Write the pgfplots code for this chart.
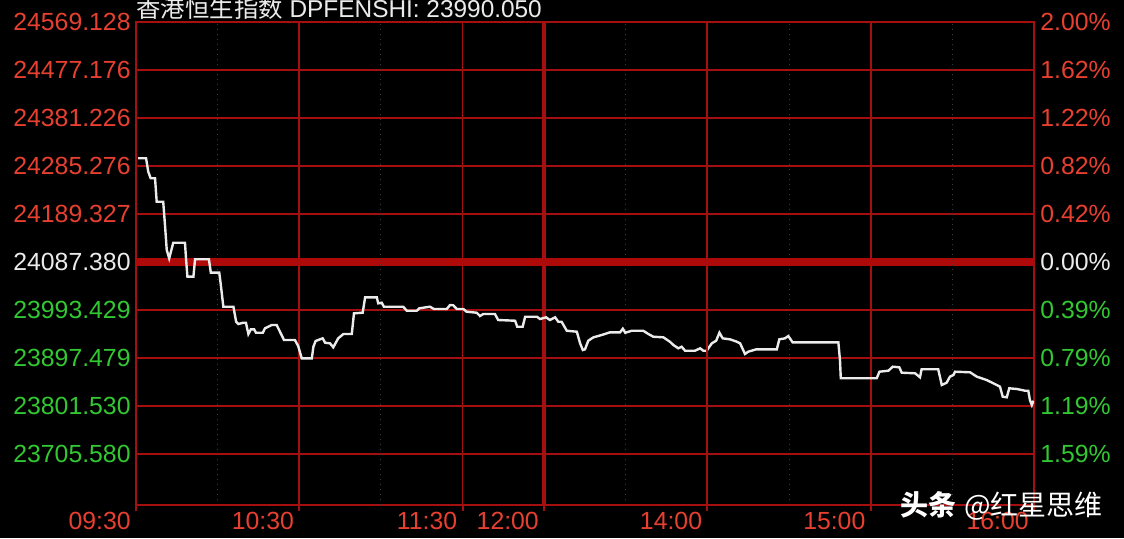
\documentclass[border=0pt]{standalone}
\usepackage{pgfplots}
\pgfplotsset{compat=1.18}
\usepackage{pgfplotstable}
\usepackage{fontspec}
\setmainfont{Liberation Sans}
\newfontfamily\cjk{Noto Sans CJK SC}
\definecolor{lred}{RGB}{232,64,48}
\definecolor{lgreen}{RGB}{50,200,50}
\definecolor{lwhite}{RGB}{235,235,235}
\definecolor{gridred}{RGB}{165,15,15}
\definecolor{basered}{RGB}{175,10,10}
\definecolor{dimgrid}{RGB}{60,60,60}

\pgfplotstableread{
t p
0.8 24294.7
3.7 24294.7
4.5 24267.9
5.4 24254.7
7.0 24254.7
7.6 24207.9
10.0 24207.9
10.7 24157.9
11.3 24111.4
12.2 24094.8
13.7 24125.9
18.0 24125.9
18.4 24092.8
18.9 24058.0
21.1 24058.0
21.7 24092.8
26.8 24092.8
27.5 24066.0
30.6 24066.0
31.1 24044.8
32.1 23998.0
35.8 23998.0
36.8 23968.0
37.6 23963.4
39.4 23966.0
40.4 23966.0
41.3 23943.4
42.2 23952.8
43.4 23952.8
44.1 23946.0
46.6 23946.0
47.4 23954.8
49.9 23961.4
51.7 23961.4
52.9 23948.0
54.4 23931.4
58.4 23931.4
59.6 23919.4
60.9 23894.8
64.6 23894.8
65.2 23918.1
66.0 23929.4
67.6 23932.8
68.6 23934.8
69.5 23926.0
71.3 23924.8
72.5 23916.8
74.3 23934.8
76.2 23943.4
79.3 23943.4
80.1 23984.8
83.3 23986.0
84.2 24016.8
88.5 24016.8
89.0 24004.8
90.3 24006.0
91.1 23998.0
98.2 23998.0
99.5 23990.0
103.2 23990.0
104.1 23994.8
108.0 23998.0
109.5 23993.4
114.2 23993.4
115.4 24001.4
116.6 24000.8
117.9 23993.4
120.3 23993.4
121.5 23988.0
125.2 23986.0
126.4 23979.4
127.6 23983.4
131.9 23983.4
133.1 23971.4
139.3 23970.0
140.1 23958.0
142.1 23958.0
143.0 23978.0
147.3 23978.0
148.5 23973.4
150.7 23976.8
152.1 23971.4
154.0 23976.8
155.2 23968.0
156.4 23968.0
158.3 23950.0
162.0 23948.0
163.2 23924.8
164.2 23911.4
165.0 23912.8
166.2 23930.0
168.1 23936.8
171.1 23941.4
174.2 23946.8
177.9 23946.8
178.9 23954.0
179.8 23946.0
182.2 23950.0
186.4 23950.0
188.3 23943.4
190.1 23938.0
193.8 23936.8
196.2 23928.0
197.5 23921.4
199.3 23914.8
200.5 23918.0
201.8 23910.0
205.4 23910.0
207.3 23914.8
208.5 23910.0
209.7 23910.0
211.6 23924.8
213.2 23930.0
214.4 23946.0
215.6 23934.8
218.3 23932.8
220.8 23928.0
222.0 23924.8
223.8 23903.5
225.0 23908.1
227.9 23912.8
235.5 23912.8
236.4 23932.8
238.5 23934.8
239.7 23939.4
241.3 23926.8
258.1 23926.8
258.7 23891.5
259.0 23854.9
272.2 23854.9
273.2 23868.1
276.5 23870.1
278.1 23878.1
280.5 23876.9
281.4 23866.1
286.3 23864.9
288.1 23856.9
288.7 23872.9
294.8 23872.9
295.7 23851.5
296.1 23841.5
297.9 23846.1
299.1 23858.1
300.4 23861.5
301.0 23868.1
306.5 23866.9
309.0 23858.1
312.6 23851.5
316.3 23841.5
317.5 23838.1
318.5 23818.1
320.0 23816.9
320.9 23834.9
323.7 23833.5
326.7 23830.1
327.9 23830.1
328.5 23811.5
329.2 23801.5
329.8 23810.1
}\hsidata

\begin{document}
\begin{tikzpicture}
\fill[black] (0,0) rectangle (562pt,269pt);
\begin{axis}[
  at={(68pt,16.5pt)}, anchor=south west,
  scale only axis, width=449pt, height=241.5pt,
  xmin=0, xmax=330, ymin=23601.6, ymax=24567.13,
  axis line style={gridred, line width=1pt},
  xtick={0,60,120,210,270,330},
  xticklabels={09:30,10:30,11:30,14:00,15:00,16:00},
  extra x ticks={150}, extra x tick labels={12:00},
  extra x tick style={major grid style={gridred, line width=2pt}},
  ytick={23703.58,23799.53,23895.48,23991.43,24087.38,24183.33,24279.28,24375.23,24471.18,24567.13},
  yticklabels={{\textcolor{lgreen}{23705.580}},{\textcolor{lgreen}{23801.530}},{\textcolor{lgreen}{23897.479}},{\textcolor{lgreen}{23993.429}},{\textcolor{lwhite}{24087.380}},{\textcolor{lred}{24189.327}},{\textcolor{lred}{24285.276}},{\textcolor{lred}{24381.226}},{\textcolor{lred}{24477.176}},{\textcolor{lred}{24569.128}}},
  extra y ticks={24087.38}, extra y tick labels={},
  extra y tick style={major grid style={basered, line width=4pt}},
  grid=major,
  major grid style={gridred, line width=0.9pt},
  xtick pos=bottom, ytick pos=left,
  xtick align=outside, major tick length=3pt,
  x tick style={gridred, line width=1pt},
  y tick style={draw=none},
  xticklabel style={font=\fontsize{12.4}{14}\selectfont, text=lred, anchor=east, inner sep=0pt, xshift=-2.5pt, yshift=-5.2pt},
  yticklabel style={font=\fontsize{12.4}{14}\selectfont, anchor=east, inner sep=0pt, xshift=-2.5pt},
]
\foreach \xx in {30,90,180,240,300}{
  \edef\tmp{\noexpand\draw[dimgrid, line width=0.5pt, dotted] (axis cs:\xx,23601.6) -- (axis cs:\xx,24567.13);}
  \tmp
}
\addplot[lwhite, line width=1.2pt] table[x=t, y=p] {\hsidata};
\end{axis}
\begin{axis}[
  at={(68pt,16.5pt)}, anchor=south west,
  scale only axis, width=449pt, height=241.5pt,
  xmin=0, xmax=330, ymin=23601.6, ymax=24567.13,
  axis x line=none, axis y line*=right,
  axis line style={draw=none},
  ytick={23703.58,23799.53,23895.48,23991.43,24087.38,24183.33,24279.28,24375.23,24471.18,24567.13},
  yticklabels={{\textcolor{lgreen}{1.59\%}},{\textcolor{lgreen}{1.19\%}},{\textcolor{lgreen}{0.79\%}},{\textcolor{lgreen}{0.39\%}},{\textcolor{lwhite}{0.00\%}},{\textcolor{lred}{0.42\%}},{\textcolor{lred}{0.82\%}},{\textcolor{lred}{1.22\%}},{\textcolor{lred}{1.62\%}},{\textcolor{lred}{2.00\%}}},
  y tick style={draw=none},
  yticklabel style={font=\fontsize{12.4}{14}\selectfont, anchor=west, inner sep=0pt, xshift=3pt},
]
\draw[gridred, line width=1pt] (axis cs:210,23601.6) -- (axis cs:210,24567.13);
\end{axis}
\node[anchor=base west, inner sep=0pt, text=lwhite, font=\fontsize{12.2}{14}\selectfont] at (68pt,260.5pt) {{\cjk 香港恒生指数} DPFENSHI: 23990.050};
\node[anchor=west, inner sep=0pt, text=white, font=\fontsize{14}{16}\selectfont] at (450pt,16pt) {{\cjk\bfseries 头条} {\cjk @红星思维}};
\pgfresetboundingbox
\path[use as bounding box] (0,0) rectangle (562pt,269pt);
\end{tikzpicture}
\end{document}
